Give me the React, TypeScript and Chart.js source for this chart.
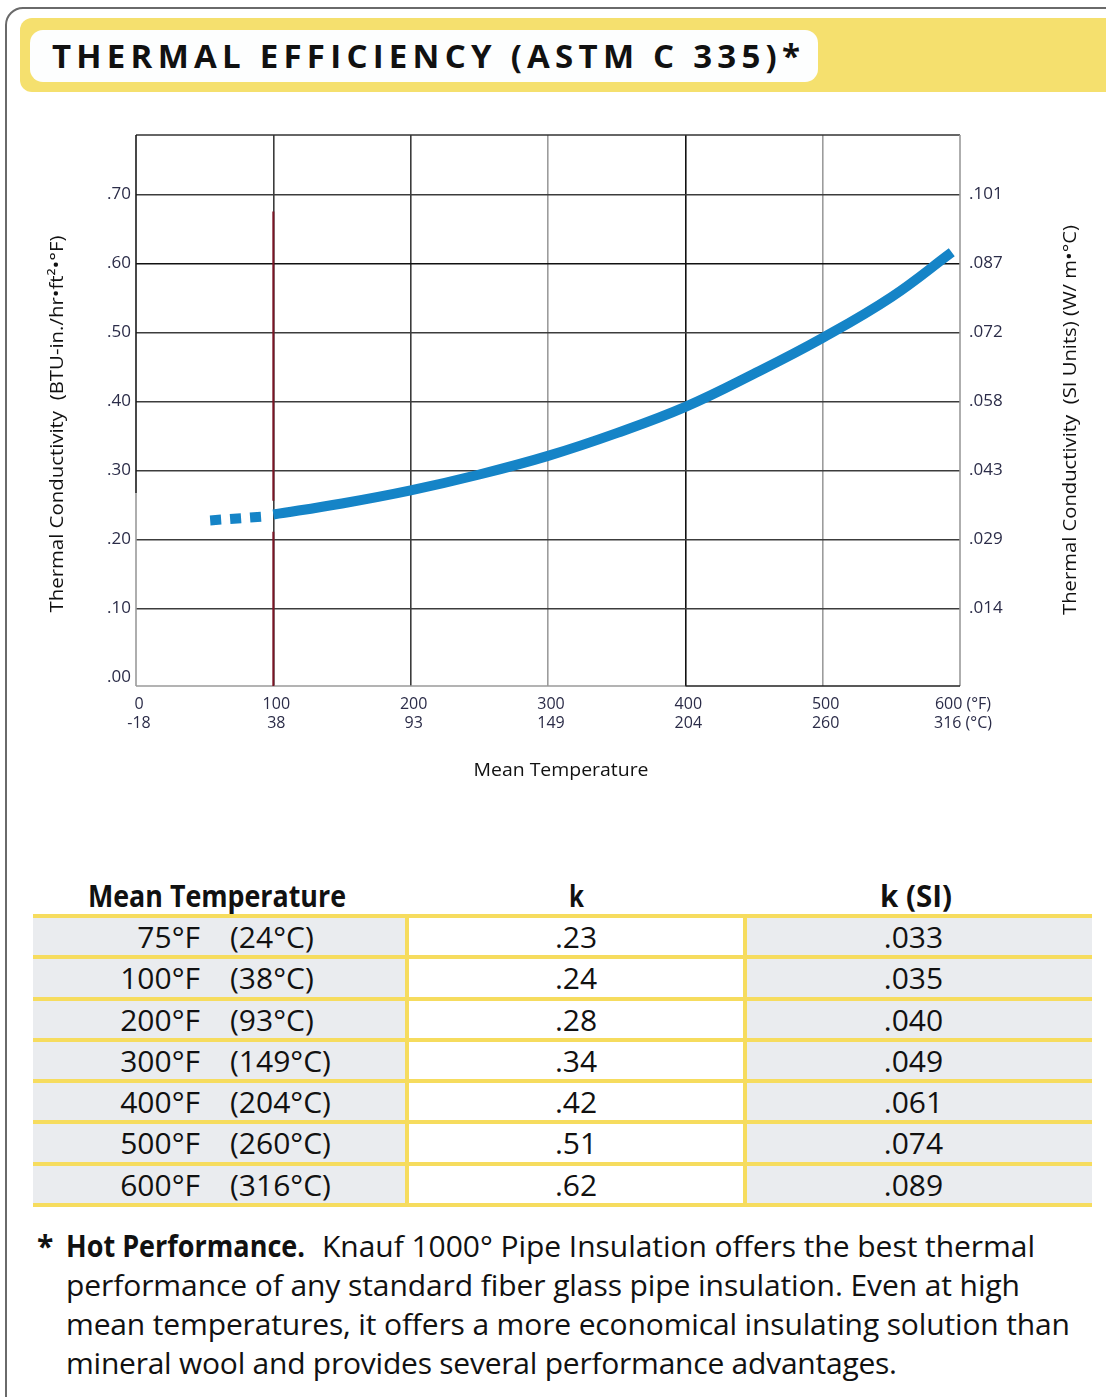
import React, { useEffect, useLayoutEffect, useRef } from 'react';
import { Chart, registerables } from 'chart.js';

Chart.register(...registerables);

// ---------- data ----------
const xTickValues = [0, 100, 200, 300, 400, 500, 600];
const xTickLabelsF = ['0', '100', '200', '300', '400', '500', '600 (°F)'];
const xTickLabelsC = ['-18', '38', '93', '149', '204', '260', '316 (°C)'];

const yTickValues = [0, 0.1, 0.2, 0.3, 0.4, 0.5, 0.6, 0.7];
const yTickLabels = ['.00', '.10', '.20', '.30', '.40', '.50', '.60', '.70'];
const ySiTickLabels = ['', '.014', '.029', '.043', '.058', '.072', '.087', '.101'];

// dashed (extrapolated) part of the curve
const dashedTemps = [54, 93];
const dashedK = [0.2275, 0.233];

// solid curve
const curveTemps = [100, 150, 200, 250, 300, 350, 400, 450, 500, 550, 594];
const curveK = [0.236, 0.252, 0.271, 0.294, 0.321, 0.354, 0.392, 0.44, 0.492, 0.551, 0.616];

// red reference line at 100°F (broken where the curve crosses)
const refTemps = [100, 100, 100, 100, 100];
const refK = [0.675, 0.256, null, 0.211, -0.0125];

const yMin = -0.0125;
const yMax = 0.786;

const xTitle = 'Mean Temperature';
const yTitle = 'Thermal Conductivity  (BTU-in./hr•ft²•°F)';
const y2Title = 'Thermal Conductivity  (SI Units) (W/ m•°C)';

// table
const tableTempF = ['75°F', '100°F', '200°F', '300°F', '400°F', '500°F', '600°F'];
const tableTempC = ['(24°C)', '(38°C)', '(93°C)', '(149°C)', '(204°C)', '(260°C)', '(316°C)'];
const tableK = ['.23', '.24', '.28', '.34', '.42', '.51', '.62'];
const tableKSI = ['.033', '.035', '.040', '.049', '.061', '.074', '.089'];
const tableHeaders = ['Mean Temperature', 'k', 'k (SI)'];

const titleText = 'THERMAL EFFICIENCY (ASTM C 335)*';
const noteBold = 'Hot Performance.';
const noteLines = [
  'Knauf 1000° Pipe Insulation offers the best thermal',
  'performance of any standard fiber glass pipe insulation. Even at high',
  'mean temperatures, it offers a more economical insulating solution than',
  'mineral wool and provides several performance advantages.',
];

// ---------- styles ----------
const BLUE = '#1584c7';
const RED = '#7a1424';
const YELLOW = '#f5e06e';
const TABLE_YELLOW = '#f6dc5e';
const CELL_GRAY = '#eaecef';
const TICK_COLOR = '#2b2c48';
const SANS = "'Open Sans', 'Noto Sans', sans-serif";

const xGridColor = (v: number) => {
  if (v === 0 || v === 600) return 'rgba(0,0,0,0)';
  if (v === 400) return '#111111';
  if (v === 300 || v === 500) return '#9c9c9c';
  return '#3c3c3c';
};
const yGridColor = (v: number) => {
  if (v === 0) return 'rgba(0,0,0,0)';
  if (v === 0.6) return '#111111';
  return '#3c3c3c';
};

const framePlugin = {
  id: 'frame',
  beforeDatasetsDraw(chart: any) {
    const { ctx, chartArea: a, scales } = chart;
    const ySplit = scales.y.getPixelForValue(0.267);
    const xSplit = scales.x.getPixelForValue(400);
    ctx.save();
    ctx.lineWidth = 1.6;
    const seg = (c: string, x1: number, y1: number, x2: number, y2: number) => {
      ctx.strokeStyle = c;
      ctx.beginPath();
      ctx.moveTo(x1, y1);
      ctx.lineTo(x2, y2);
      ctx.stroke();
    };
    seg('#333', a.left, a.top, a.right, a.top);
    seg('#1a1a1a', a.left, a.top, a.left, ySplit);
    seg('#9a9a9a', a.left, ySplit, a.left, a.bottom);
    seg('#9a9a9a', a.right, a.top, a.right, a.bottom);
    seg('#9a9a9a', a.left, a.bottom, xSplit, a.bottom);
    seg('#222', xSplit, a.bottom, a.right, a.bottom);
    ctx.restore();
  },
};

// axis titles drawn with a plugin so that both vertical titles read bottom-to-top
const titlesPlugin = {
  id: 'axisTitles',
  afterDraw(chart: any) {
    const { ctx } = chart;
    const draw = (text: string, cx: number, cy: number, rot: number, target: number, size: number) => {
      ctx.save();
      ctx.font = `${size}px ${SANS}`;
      ctx.fillStyle = '#111';
      ctx.textAlign = 'center';
      ctx.textBaseline = 'middle';
      const w = ctx.measureText(text).width;
      ctx.translate(cx, cy);
      ctx.rotate(rot);
      ctx.scale(target / w, 1);
      ctx.fillText(text, 0, 0);
      ctx.restore();
    };
    // canvas is placed at page (30,120)
    draw(yTitle, 58 - 30, 424 - 120, -Math.PI / 2, 377, 18);
    draw(y2Title, 1071 - 30, 420 - 120, -Math.PI / 2, 390, 18);
    draw(xTitle, 561 - 30, 771 - 120, 0, 175, 19);
  },
};

const noPad = (s: any) => {
  s.paddingTop = 0;
  s.paddingBottom = 0;
  s.paddingLeft = 0;
  s.paddingRight = 0;
};

function ThermalChart() {
  const ref = useRef<HTMLCanvasElement | null>(null);
  useEffect(() => {
    if (!ref.current) return;
    const tickFont = { family: SANS, size: 16 };
    const chart = new Chart(ref.current, {
      type: 'line',
      data: {
        datasets: [
          {
            label: 'ref',
            data: refTemps.map((t, i) => ({ x: t, y: refK[i] })) as any,
            borderColor: RED,
            borderWidth: 2,
            pointRadius: 0,
            spanGaps: false,
          },
          {
            label: 'dashed',
            data: dashedTemps.map((t, i) => ({ x: t, y: dashedK[i] })),
            borderColor: BLUE,
            borderWidth: 10,
            borderDash: [11, 9],
            pointRadius: 0,
          },
          {
            label: 'k',
            data: curveTemps.map((t, i) => ({ x: t, y: curveK[i] })),
            borderColor: BLUE,
            borderWidth: 10,
            pointRadius: 0,
            tension: 0.4,
          },
        ],
      },
      options: {
        animation: false,
        responsive: false,
        maintainAspectRatio: false,
        layout: { padding: { top: 15, left: 0, right: 0, bottom: 0 } },
        plugins: { legend: { display: false }, tooltip: { enabled: false } },
        scales: {
          x: {
            type: 'linear',
            min: 0,
            max: 600,
            afterBuildTicks: (s: any) => {
              s.ticks = xTickValues.map((v) => ({ value: v }));
            },
            afterFit: (s: any) => {
              s.height = 114;
              noPad(s);
            },
            grid: {
              color: (c: any) => xGridColor(c.tick ? c.tick.value : -1),
              lineWidth: 1.6,
              drawTicks: false,
            },
            border: { display: false },
            ticks: {
              autoSkip: false,
              maxRotation: 0,
              padding: 9,
              labelOffset: 3,
              color: TICK_COLOR,
              font: { ...tickFont, lineHeight: 1.2 },
              callback: (v: any, i: number) => [xTickLabelsF[i], xTickLabelsC[i]],
            },
          },
          y: {
            type: 'linear',
            position: 'left',
            min: yMin,
            max: yMax,
            afterBuildTicks: (s: any) => {
              s.ticks = yTickValues.map((v) => ({ value: v }));
            },
            afterFit: (s: any) => {
              s.width = 106;
              noPad(s);
            },
            grid: {
              color: (c: any) => yGridColor(c.tick ? Math.round(c.tick.value * 10) / 10 : -1),
              lineWidth: 1.6,
              drawTicks: false,
            },
            border: { display: false },
            ticks: {
              padding: 5,
              color: TICK_COLOR,
              font: { family: SANS, size: 17 },
              callback: (v: any, i: number) => yTickLabels[i],
            },
          },
          y2: {
            type: 'linear',
            position: 'right',
            min: yMin,
            max: yMax,
            afterBuildTicks: (s: any) => {
              s.ticks = yTickValues.map((v) => ({ value: v }));
            },
            afterFit: (s: any) => {
              s.width = 130;
              noPad(s);
            },
            grid: { display: false, drawTicks: false },
            border: { display: false },
            ticks: {
              padding: 9,
              color: TICK_COLOR,
              font: { family: SANS, size: 17 },
              callback: (v: any, i: number) => ySiTickLabels[i],
            },
          },
        },
      } as any,
      plugins: [framePlugin, titlesPlugin],
    });
    return () => chart.destroy();
  }, []);
  return (
    <canvas
      ref={ref}
      width={1060}
      height={680}
      style={{ position: 'absolute', left: 30, top: 120, width: 1060, height: 680 }}
    />
  );
}

// Text stretched to a target width, either by letter spacing or by horizontal scale.
function FitText({
  text,
  width,
  mode,
  style,
}: {
  text: string;
  width: number;
  mode: 'spacing' | 'scale';
  style: React.CSSProperties;
}) {
  const ref = useRef<HTMLSpanElement | null>(null);
  useLayoutEffect(() => {
    const el = ref.current;
    if (!el) return;
    el.style.letterSpacing = '0px';
    el.style.transform = 'none';
    const w = el.getBoundingClientRect().width;
    if (mode === 'spacing') {
      const n = text.length;
      el.style.letterSpacing = (width - w) / (n - 1) + 'px';
    } else {
      el.style.transform = `scaleX(${width / w})`;
    }
  }, [text, width, mode]);
  return (
    <span
      ref={ref}
      style={{ whiteSpace: 'nowrap', display: 'inline-block', transformOrigin: 'left center', ...style }}
    >
      {text}
    </span>
  );
}

export default function App() {
  const lineTops = Array.from({ length: 8 }, (_, i) => 916 + i * 41.28);
  const cols = [
    { left: 33, right: 405, bg: CELL_GRAY },
    { left: 409, right: 743, bg: '#ffffff' },
    { left: 747, right: 1092, bg: CELL_GRAY },
  ];
  const headerPos = [
    { left: 88, width: 258 },
    { left: 569, width: 15 },
    { left: 880, width: 72 },
  ];
  const noteTargets = [713, 954, 1004, 831];
  return (
    <div
      style={{
        position: 'absolute',
        left: 0,
        top: 0,
        width: 1106,
        height: 1397,
        overflow: 'hidden',
        background: '#ffffff',
        fontFamily: SANS,
        color: '#111',
      }}
    >
      {/* outer frame */}
      <div
        style={{
          position: 'absolute',
          left: 5,
          top: 7,
          width: 1200,
          height: 1500,
          border: '2px solid #6a6a6a',
          borderRadius: 18,
        }}
      />
      {/* title bar */}
      <div
        style={{
          position: 'absolute',
          left: 20,
          top: 18,
          width: 1200,
          height: 74,
          background: YELLOW,
          borderRadius: 12,
        }}
      />
      <div
        style={{
          position: 'absolute',
          left: 30,
          top: 30,
          width: 788,
          height: 52,
          background: '#fdfefe',
          borderRadius: 13,
        }}
      />
      <div style={{ position: 'absolute', left: 52, top: 30, height: 52, display: 'flex', alignItems: 'center' }}>
        <FitText
          text={titleText}
          width={748}
          mode="spacing"
          style={{ fontFamily: SANS, fontWeight: 700, fontSize: 33, color: '#111', lineHeight: '52px' }}
        />
      </div>

      <ThermalChart />

      {/* table headers */}
      {tableHeaders.map((h, i) => (
        <div
          key={h}
          style={{
            position: 'absolute',
            left: headerPos[i].left,
            top: 876,
            height: 40,
            lineHeight: '40px',
          }}
        >
          <FitText
            text={h}
            width={headerPos[i].width}
            mode="scale"
            style={{ fontWeight: 700, fontSize: 30, color: '#111', lineHeight: '40px' }}
          />
        </div>
      ))}
      {/* table grid background (yellow lines) */}
      <div
        style={{
          position: 'absolute',
          left: 33,
          top: lineTops[0] - 2,
          width: 1092 - 33,
          height: lineTops[7] - lineTops[0] + 4,
          background: TABLE_YELLOW,
        }}
      />
      {tableTempF.map((f, r) => {
        const top = lineTops[r] + 2;
        const h = lineTops[r + 1] - lineTops[r] - 4;
        const values = [null, tableK[r], tableKSI[r]];
        return (
          <React.Fragment key={f}>
            {cols.map((c, ci) => (
              <div
                key={ci}
                style={{
                  position: 'absolute',
                  left: c.left,
                  top,
                  width: c.right - c.left,
                  height: h,
                  background: c.bg,
                  fontSize: 30,
                  lineHeight: h + 'px',
                  color: '#111',
                }}
              >
                {ci === 0 ? (
                  <>
                    <span style={{ position: 'absolute', right: c.right - 200, top: 0 }}>{f}</span>
                    <span style={{ position: 'absolute', left: 230 - c.left, top: 0 }}>{tableTempC[r]}</span>
                  </>
                ) : (
                  <div style={{ textAlign: 'center', width: '100%', marginLeft: ci === 2 ? -6 : 0 }}>
                    {values[ci]}
                  </div>
                )}
              </div>
            ))}
          </React.Fragment>
        );
      })}

      {/* footnote */}
      <div
        style={{
          position: 'absolute',
          left: 37,
          top: 1226,
          fontSize: 30,
          fontWeight: 700,
          lineHeight: '39px',
        }}
      >
        *
      </div>
      <div style={{ position: 'absolute', left: 66, top: 1226, fontSize: 30, lineHeight: '39px', color: '#111' }}>
        <div style={{ position: 'relative', height: 39 }}>
          <FitText text={noteBold} width={239} mode="scale" style={{ fontWeight: 700 }} />
          <span style={{ position: 'absolute', left: 322 - 66, top: 0 }}>
            <FitText text={noteLines[0]} width={noteTargets[0]} mode="spacing" style={{}} />
          </span>
        </div>
        {noteLines.slice(1).map((l, i) => (
          <div key={i} style={{ height: 39 }}>
            <FitText text={l} width={noteTargets[i + 1]} mode="spacing" style={{}} />
          </div>
        ))}
      </div>
    </div>
  );
}
